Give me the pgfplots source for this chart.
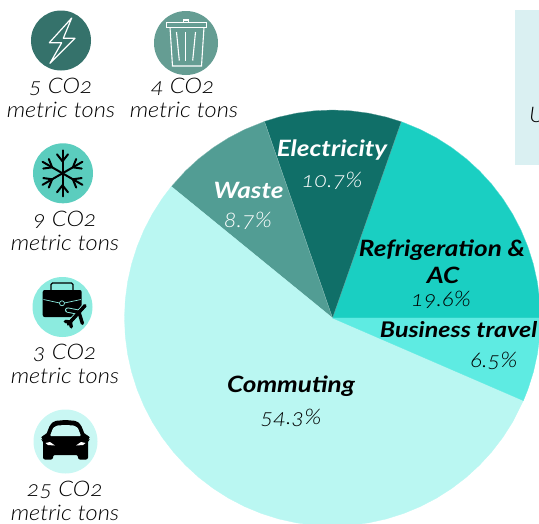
\documentclass[border=0pt]{standalone}
\usepackage{pgfplots}
\usepackage{fontspec}
\setmainfont{Lato}[Numbers=OldStyle]
\newfontfamily\headfont{Lato}[FakeStretch=1.16,Numbers=OldStyle]
\newfontfamily\lightfont{Lato Light}[ItalicFont=* Italic,FakeStretch=1.1,Numbers=OldStyle]
\pgfplotsset{compat=1.18}
\usepgfplotslibrary{polar}
\definecolor{cRef}{HTML}{1ACFC2}
\definecolor{cEle}{HTML}{106F68}
\definecolor{cWas}{HTML}{529D94}
\definecolor{cCom}{HTML}{BAF7F2}
\definecolor{cBus}{HTML}{5EEBE2}
\definecolor{iEle}{HTML}{35726B}
\definecolor{iWas}{HTML}{659D93}
\definecolor{iRef}{HTML}{5BCDBE}
\definecolor{iBus}{HTML}{8CEBDF}
\definecolor{iCom}{HTML}{C9F7F3}
\definecolor{cBox}{HTML}{DAF0F2}
\newcommand{\head}{\headfont\fontsize{22.5}{24}\selectfont\bfseries\itshape}
\newcommand{\headsm}{\headfont\fontsize{21.6}{24}\selectfont\bfseries\itshape}
\newcommand{\val}{\lightfont\fontsize{21.5}{24}\selectfont\itshape}
\newcommand{\side}{\lightfont\fontsize{21.5}{23}\selectfont\itshape}
\begin{document}
\begin{tikzpicture}[x=1pt,y=-1pt,every node/.style={inner sep=0pt}]
\path[use as bounding box,clip] (0,0) rectangle (539,523);
\fill[cBox] (515,10) rectangle (560,165);
\node[font=\side] at (537,115) {U};
\begin{polaraxis}[at={(332.5pt,-318pt)},anchor=center,scale only axis,width=416pt,height=416pt,
  xmin=0,xmax=360,ymin=0,ymax=208,hide axis,clip=false]
\addplot[fill=cRef,draw=cRef!70!white,line width=0.3pt] coordinates {(0,0)(0,208)(5,208)(10,208)(15,208)(20,208)(25,208)(30,208)(35,208)(40,208)(45,208)(50,208)(55,208)(60,208)(65,208)(70,208)(70.7,208)} --cycle;
\addplot[fill=cEle,draw=cEle!70!white,line width=0.3pt] coordinates {(0,0)(70.7,208)(75,208)(80,208)(85,208)(90,208)(95,208)(100,208)(105,208)(109.1,208)} --cycle;
\addplot[fill=cWas,draw=cWas!70!white,line width=0.3pt] coordinates {(0,0)(109.1,208)(115,208)(120,208)(125,208)(130,208)(135,208)(140.8,208)} --cycle;
\addplot[fill=cCom,draw=cCom,line width=0.3pt] coordinates {(0,0)(140.8,208)(145,208)(150,208)(155,208)(160,208)(165,208)(170,208)(175,208)(180,208)(185,208)(190,208)(195,208)(200,208)(205,208)(210,208)(215,208)(220,208)(225,208)(230,208)(235,208)(240,208)(245,208)(250,208)(255,208)(260,208)(265,208)(270,208)(275,208)(280,208)(285,208)(290,208)(295,208)(300,208)(305,208)(310,208)(315,208)(320,208)(325,208)(330,208)(336.6,208)} --cycle;
\addplot[fill=cBus,draw=cBus,line width=0.3pt] coordinates {(0,0)(336.6,208)(340,208)(345,208)(350,208)(355,208)(360,208)} --cycle;
\end{polaraxis}
% slice labels
\node[font=\head,white] at (332,150) {Electricity};
\node[font=\val,white] at (332,181) {10.7\%};
\node[font=\head,white] at (248.5,190) {Waste};
\node[font=\val,white] at (248,221) {8.7\%};
\node[font=\head] at (442,250) {Refrigeration \&};
\node[font=\head] at (443,275) {AC};
\node[font=\val] at (441,300) {19.6\%};
\node[font=\headsm] at (458.5,330) {Business travel};
\node[font=\val] at (494,361) {6.5\%};
\node[font=\head] at (291,386) {Commuting};
\node[font=\val] at (291,418) {54.3\%};
% side labels
\node[font=\side] at (61,87) {5 CO2};
\node[font=\side] at (61,110) {metric tons};
\node[font=\side] at (183,87) {4 CO2};
\node[font=\side] at (184,110) {metric tons};
\node[font=\side] at (65,220) {9 CO2};
\node[font=\side] at (65,243) {metric tons};
\node[font=\side] at (65,353) {3 CO2};
\node[font=\side] at (65,376) {metric tons};
\node[font=\side] at (65,490) {25 CO2};
\node[font=\side] at (65,512.5) {metric tons};
% icon: electricity
\fill[iEle] (61,40.5) circle (30);
\draw[white,line width=1.2pt,line join=round] (71.7,18)--(49.3,42.7)--(61.7,42.7)--(50,63.3)--(75,38.3)--(63.3,38.3)--cycle;
% icon: waste
\fill[iWas] (186,43) circle (32);
\begin{scope}[white,line width=1.1pt]
\draw (166.7,22.7) rectangle (206.7,27.3);
\draw (183.3,20) rectangle (188.7,22.7);
\draw (170,27.3)--(172.5,66)--(201.5,66)--(204,27.3);
\draw (176.5,32)--(179.3,60.5);
\draw (185.7,32)--(185.7,60.5);
\draw (195.5,32)--(192.7,60.5);
\end{scope}
% icon: refrigeration
\fill[iRef] (63,173.3) circle (30);
\begin{scope}[shift={(62.5,173.3)},line width=2pt,line cap=round]
\foreach \a in {30,90,150,210,270,330}{
  \begin{scope}[rotate=\a]
  \draw (0,0)--(23,0);
  \draw (12,0)--(19,5.5);
  \draw (12,0)--(19,-5.5);
  \end{scope}}
\end{scope}
% icon: business travel
\fill[iBus] (62.5,307) circle (30);
\draw[black,line width=1.2pt,rounded corners=1.5pt] (51,290)--(51,283)--(73,283)--(73,290);
\fill[black,rounded corners=2pt] (42.7,290) rectangle (81.7,317);
\draw[iBus,line width=0.7pt] (43.5,299.5)--(62,303.5)--(81,299.5);
\draw[iBus,fill=black,line width=0.7pt] (62,303.3) circle (2.5);
\begin{scope}[shift={(77,314.5)},rotate=48]
\foreach \c/\w in {iBus/5.2,black/3.4}{
  \draw[\c,line width=\w pt,line cap=round] (-13,0)--(12,0);
  \draw[\c,line width=\w pt,line cap=round] (3,0)--(-3,-10);
  \draw[\c,line width=\w pt,line cap=round] (3,0)--(-3,10);
  \draw[\c,line width=\w pt,line cap=round] (-10,0)--(-13,-4);
  \draw[\c,line width=\w pt,line cap=round] (-10,0)--(-13,4);}
\fill[black] (-13,-1.5) rectangle (12,1.5);
\end{scope}
% icon: commuting
\fill[iCom] (65.5,441.5) circle (32);
\fill[black,rounded corners=2pt] (43,448)--(43,440)--(41,439)--(41.5,435.5)--(46,435)--(50,425)--(54,421)--(65.5,420)--(77,421)--(81,425)--(85,435)--(89.5,435.5)--(90,439)--(88,440)--(88,448)--(88,459.5)--(78,459.5)--(78,455)--(53,455)--(53,459.5)--(43,459.5)--cycle;
\fill[iCom,rounded corners=1pt] (50,436)--(53,428)--(57,425.5)--(65.5,425)--(74,425.5)--(78,428)--(81,436)--cycle;
\fill[white] (45.5,443)--(50,442)--(55,445.5)--(48,445)--cycle;
\fill[white] (85.5,443)--(81,442)--(76,445.5)--(83,445)--cycle;
\end{tikzpicture}
\end{document}
